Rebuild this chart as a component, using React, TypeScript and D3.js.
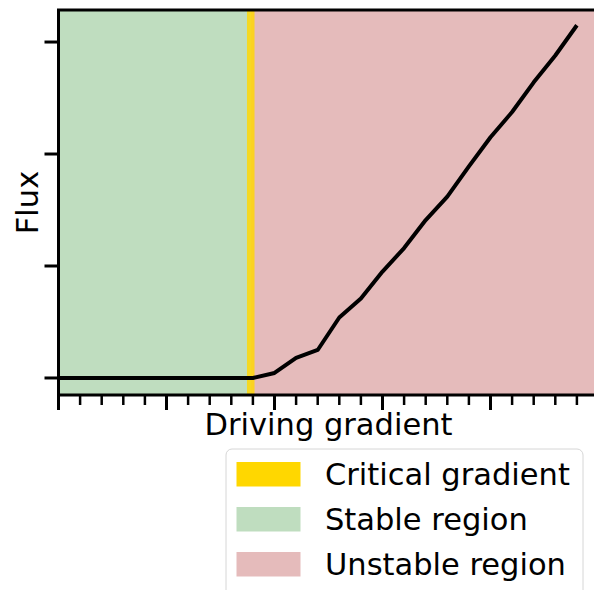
import React from 'react';
import * as d3 from 'd3';

// ---- data ----
const gradient = [0, 0.2, 0.4, 0.6, 0.8, 1.0, 1.2, 1.4, 1.6, 1.8, 2.0, 2.2, 2.4, 2.6, 2.8, 3.0, 3.2, 3.4, 3.6, 3.8, 4.0, 4.2, 4.4, 4.6, 4.8];
const flux = [0, 0, 0, 0, 0, 0, 0, 0, 0, 0, 0.045, 0.18, 0.25, 0.54, 0.71, 0.95, 1.16, 1.41, 1.62, 1.89, 2.15, 2.375, 2.64, 2.88, 3.15];
const yTicks = [0, 1, 2, 3];
const xMajorTicks = [0, 1, 2, 3, 4, 5];
const xMinorTicks = [0.2, 0.4, 0.6, 0.8, 1.2, 1.4, 1.6, 1.8, 2.2, 2.4, 2.6, 2.8, 3.2, 3.4, 3.6, 3.8, 4.2, 4.4, 4.6, 4.8];
const xDomain = [0, 5];
const yDomain = [-0.152, 3.286];
const regionSplit = 1.78;
const criticalBand = [1.745, 1.815];
const legendLabels = ['Critical gradient', 'Stable region', 'Unstable region'];

const GOLD = '#FFD700';
const GREEN = 'rgb(191,221,191)';
const RED = 'rgb(229,187,187)';
const legendColors = [GOLD, GREEN, RED];
const FONT = 'DejaVu Sans, sans-serif';

export default function App() {
  const W = 594;
  const H = 590;
  const left = 58.5;
  const right = 598.5;
  const top = 10;
  const bottom = 395;

  const x = d3.scaleLinear().domain(xDomain).range([left, right]);
  const y = d3.scaleLinear().domain(yDomain).range([bottom, top]);

  const line = d3
    .line<number>()
    .x((_, i) => x(gradient[i]))
    .y((d) => y(d));

  return (
    <svg
      width={W}
      height={H}
      style={{ position: 'absolute', left: 0, top: 0, overflow: 'hidden', background: '#fff' }}
    >
      {/* regions */}
      <rect x={x(xDomain[0])} y={top} width={x(regionSplit) - x(xDomain[0])} height={bottom - top} fill={GREEN} />
      <rect x={x(regionSplit)} y={top} width={x(xDomain[1]) - x(regionSplit)} height={bottom - top} fill={RED} />
      <rect
        x={x(criticalBand[0])}
        y={top}
        width={x(criticalBand[1]) - x(criticalBand[0])}
        height={bottom - top}
        fill={GOLD}
        opacity={0.82}
      />

      {/* line */}
      <path d={line(flux) || ''} fill="none" stroke="#000" strokeWidth={4} strokeLinejoin="round" strokeLinecap="butt" />

      {/* spines */}
      <rect x={left} y={top} width={right - left} height={bottom - top} fill="none" stroke="#000" strokeWidth={3} />

      {/* x ticks */}
      {xMajorTicks.map((t) => (
        <line key={'M' + t} x1={x(t)} x2={x(t)} y1={bottom} y2={bottom + 15} stroke="#000" strokeWidth={3} />
      ))}
      {xMinorTicks.map((t) => (
        <line key={'m' + t} x1={x(t)} x2={x(t)} y1={bottom} y2={bottom + 10} stroke="#000" strokeWidth={2.5} />
      ))}

      {/* y ticks */}
      {yTicks.map((t) => (
        <line key={'y' + t} x1={left - 14} x2={left} y1={y(t)} y2={y(t)} stroke="#000" strokeWidth={3} />
      ))}

      {/* axis labels */}
      <text x={(left + right) / 2} y={435} textAnchor="middle" fontFamily={FONT} fontSize={30.5} fill="#000">
        Driving gradient
      </text>
      <text
        transform={`translate(38,${(top + bottom) / 2}) rotate(-90)`}
        textAnchor="middle"
        fontFamily={FONT}
        fontSize={30.5}
        fill="#000"
      >
        Flux
      </text>

      {/* legend */}
      <rect x={226} y={449} width={357} height={170} rx={6} fill="#fff" fillOpacity={0.8} stroke="#d6d6d6" strokeWidth={1} />
      {legendLabels.map((lab, i) => (
        <g key={lab}>
          <rect x={236.5} y={462 + i * 45} width={64} height={24.5} fill={legendColors[i]} />
          <text x={325} y={485 + i * 45} fontFamily={FONT} fontSize={30.5} fill="#000">
            {lab}
          </text>
        </g>
      ))}
    </svg>
  );
}
